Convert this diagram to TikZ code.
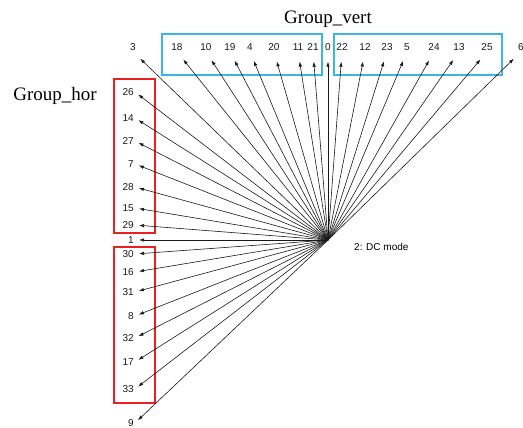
\documentclass[tikz,border=0pt]{standalone}
\usepackage{fontspec}
\setmainfont{Liberation Serif}
\newfontfamily\numfont{Liberation Sans}
\usetikzlibrary{arrows.meta, positioning}
\definecolor{vertblue}{RGB}{60,180,230}
\definecolor{horred}{RGB}{235,30,35}
\tikzset{
  every node/.style={font=\numfont\fontsize{10}{12}\selectfont, inner sep=1pt},
  num/.style    = {text=black!90},
  leftnum/.style = {num, anchor=east},
  grp/.style    = {font=\fontsize{19}{22}\selectfont, anchor=base, inner sep=0pt},
  vgroup/.style = {draw=vertblue, line width=1.1pt},
  hgroup/.style = {draw=horred, line width=1.1pt},
  arrow/.style  = {-{Latex[length=5pt,width=3.5pt]}, line width=0.6pt, black!90},
}
\begin{document}
\begin{tikzpicture}[x=1pt, y=-1pt]
  \useasboundingbox (0,0) rectangle (523,428);

  % hub
  \coordinate (hub) at (328,240);
  \node[anchor=base west] (mode) at (353,251) {2: DC mode};

  % group titles
  \node[grp] (gvert) at (328,24) {Group\_vert};
  \node[grp] (ghor)  at (55,101) {Group\_hor};

  % top row
  \node[num] (n3)  at (133,47) {3};
  \node[num] (n18) at (177,47) {18};
  \node[num] (n10) at (206,47) {10};
  \node[num] (n19) at (230,47) {19};
  \node[num] (n4)  at (250,47) {4};
  \node[num] (n20) at (274,47) {20};
  \node[num] (n11) at (298,47) {11};
  \node[num] (n21) at (313,47) {21};
  \node[num] (n0)  at (328,47) {0};
  \node[num] (n22) at (342,47) {22};
  \node[num] (n12) at (365,47) {12};
  \node[num] (n23) at (387,47) {23};
  \node[num] (n5)  at (407,47) {5};
  \node[num] (n24) at (434,47) {24};
  \node[num] (n13) at (459,47) {13};
  \node[num] (n25) at (487,47) {25};
  \node[num] (n6)  at (521,47) {6};

  % left column
  \node[leftnum] (n26) at (135,92)  {26};
  \node[leftnum] (n14) at (135,118) {14};
  \node[leftnum] (n27) at (135,141) {27};
  \node[leftnum] (n7)  at (135,164) {7};
  \node[leftnum] (n28) at (135,187) {28};
  \node[leftnum] (n15) at (135,208) {15};
  \node[leftnum] (n29) at (135,225) {29};
  \node[leftnum] (n1)  at (135,240) {1};
  \node[leftnum] (n30) at (135,254) {30};
  \node[leftnum] (n16) at (135,272) {16};
  \node[leftnum] (n31) at (135,292) {31};
  \node[leftnum] (n8)  at (135,316) {8};
  \node[leftnum] (n32) at (135,338) {32};
  \node[leftnum] (n17) at (135,362) {17};
  \node[leftnum] (n33) at (135,389) {33};
  \node[leftnum] (n9)  at (135,423) {9};

  % groups
  \draw[vgroup] (162,34) rectangle (322,75);
  \draw[vgroup] (334,34) rectangle (502,75);
  \draw[hgroup] (114,79) rectangle (155,233);
  \draw[hgroup] (114,247) rectangle (155,403);

  % connectors
  \foreach \n in {3,18,10,19,4,20,11,21,0,22,12,23,5,24,13,25,6}
    \draw[arrow, shorten >=10pt] (hub) -- (n\n.south);
  \foreach \n in {26,14,27,7,28,15,29,1,30,16,31,8,32,17,33,9}
    \draw[arrow, shorten >=4pt] (hub) -- (n\n.east);
\end{tikzpicture}
\end{document}
